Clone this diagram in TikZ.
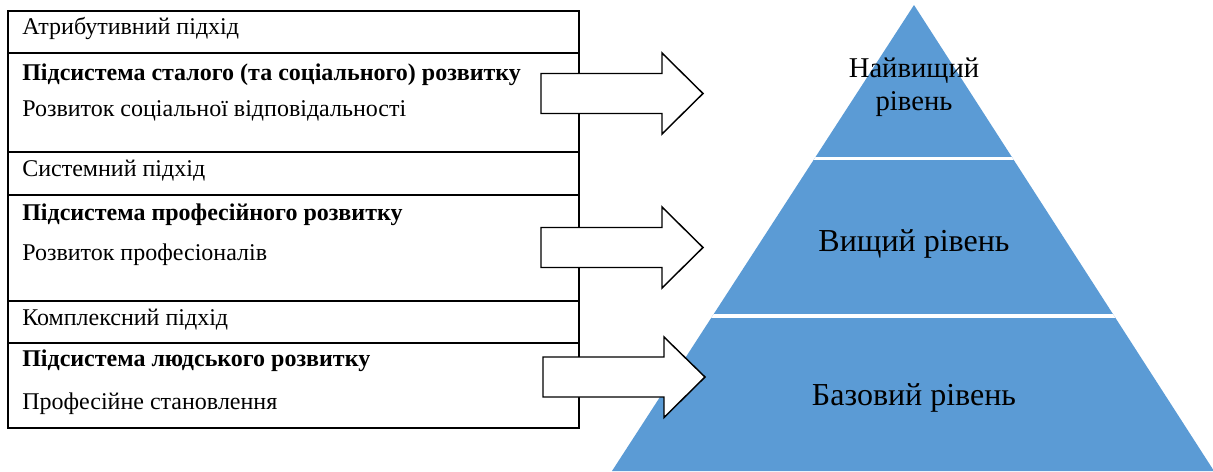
\documentclass[tikz,border=0pt]{standalone}
\usepackage{fontspec}
\setmainfont{Liberation Serif}
\definecolor{pyrblue}{RGB}{91, 155, 213}

\tikzset{
  rowtext/.style={anchor=base west, inner sep=0pt, font=\fontsize{18}{21}\selectfont},
  headtext/.style={rowtext, font=\fontsize{18}{21}\selectfont\bfseries},
  leveltext/.style={anchor=base, inner sep=0pt, font=\fontsize{24}{28}\selectfont, align=center},
  blockarrow/.style={draw=black, fill=white, line width=1.1pt, line join=miter}
}

\begin{document}
\begin{tikzpicture}[x=0.75pt, y=-0.75pt]
  \useasboundingbox (0,0) rectangle (1213,471);

  % Pyramid
  \fill[pyrblue] (914,5) -- (1214,471) -- (612,471) -- cycle;
  \begin{scope}
    \clip (914,5) -- (1214,471) -- (612,471) -- cycle;
    \draw[white, line width=2.4pt] (600,158.5) -- (1213,158.5);
    \draw[white, line width=2.4pt] (600,316) -- (1213,316);
  \end{scope}

  \node[leveltext, font=\fontsize{21.5}{24.5}\selectfont] (top) at (914,110) {Найвищий\\рівень};
  \node[leveltext] (mid) at (914,251) {Вищий рівень};
  \node[leveltext] (base) at (914,405) {Базовий рівень};

  % Left table
  \draw[line width=1.6pt] (8,11) rectangle (579,428);
  \draw[line width=1.6pt] (8,53) -- (579,53);
  \draw[line width=1.6pt] (8,152) -- (579,152);
  \draw[line width=1.6pt] (8,195) -- (579,195);
  \draw[line width=1.6pt] (8,301) -- (579,301);
  \draw[line width=1.6pt] (8,343) -- (579,343);

  \node[rowtext] (appr1) at (22,34) {Атрибутивний підхід};
  \node[headtext] (sub1) at (22,80) {Підсистема сталого (та соціального) розвитку};
  \node[rowtext] (dev1) at (22,116) {Розвиток соціальної відповідальності};

  \node[rowtext] (appr2) at (22,176) {Системний підхід};
  \node[headtext] (sub2) at (22,220) {Підсистема професійного розвитку};
  \node[rowtext] (dev2) at (22,260) {Розвиток професіоналів};

  \node[rowtext] (appr3) at (22,325) {Комплексний підхід};
  \node[headtext] (sub3) at (22,366) {Підсистема людського розвитку};
  \node[rowtext] (dev3) at (22,409) {Професійне становлення};

  % Block arrows
  \draw[blockarrow] (541,73.5) -- (662,73.5) -- (662,53) -- (703,93.5) -- (662,134) -- (662,113.5) -- (541,113.5) -- cycle;
  \draw[blockarrow] (541,227.5) -- (662,227.5) -- (662,207) -- (703,247.5) -- (662,288) -- (662,267.5) -- (541,267.5) -- cycle;
  \draw[blockarrow] (543,357) -- (664,357) -- (664,337) -- (705,377) -- (664,417.5) -- (664,397) -- (543,397) -- cycle;
\end{tikzpicture}
\end{document}
